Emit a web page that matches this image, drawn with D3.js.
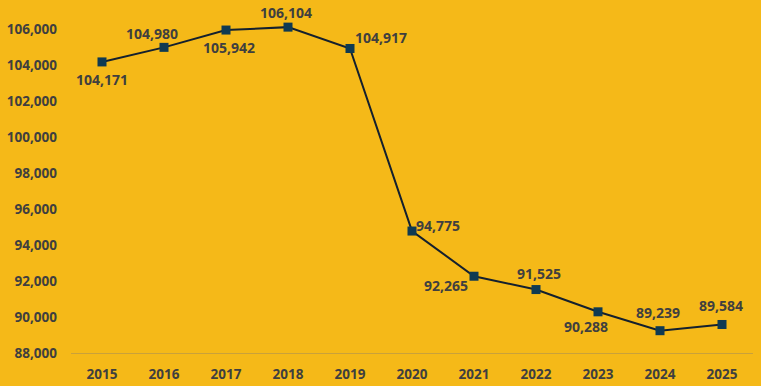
<!DOCTYPE html>
<html>
<head>
<meta charset="utf-8">
<script src="https://cdn.jsdelivr.net/npm/d3@7"></script>
<style>
  body { margin: 0; background: #f5b918; }
  svg { display: block; }
  text { font-family: 'Open Sans', 'Liberation Sans', sans-serif; font-weight: 700; fill: #3f3f3f; }
</style>
</head>
<body>
<div class="canvas"></div>
<script>
const years = ['2015', '2016', '2017', '2018', '2019', '2020', '2021', '2022', '2023', '2024', '2025']
const values = [104171, 104980, 105942, 106104, 104917, 94775, 92265, 91525, 90288, 89239, 89584]
const yTicks = [88000, 90000, 92000, 94000, 96000, 98000, 100000, 102000, 104000, 106000]

// where each value label sits relative to its marker
const labelOffset = [
  [0, 18, 'middle'], [-12, -13, 'middle'], [3, 18, 'middle'], [-2, -14, 'middle'],
  [5, -10, 'start'], [4, -5, 'start'], [-28, 10, 'middle'], [3, -15, 'middle'],
  [-12, 15, 'middle'], [-2, -18, 'middle'], [-1, -18, 'middle']
]

const dims = { width: 761, height: 386 }
const plot = { left: 71, right: 753, top: 29, bottom: 353 }

const svg = d3.select('.canvas').append('svg')
  .attr('width', dims.width)
  .attr('height', dims.height)

const x = d3.scaleBand()
  .domain(years)
  .range([plot.left, plot.right])

const y = d3.scaleLinear()
  .domain([88000, 106000])
  .range([plot.bottom, plot.top])

const fmt = d3.format(',')

// y axis labels
svg.append('g')
  .selectAll('text')
  .data(yTicks)
  .enter().append('text')
  .attr('x', 57)
  .attr('y', d => y(d))
  .attr('dy', '0.35em')
  .attr('text-anchor', 'end')
  .style('font-size', '13.5px')
  .text(d => fmt(d))

// baseline
svg.append('line')
  .attr('x1', plot.left)
  .attr('x2', plot.right)
  .attr('y1', y(88000) + 0.5)
  .attr('y2', y(88000) + 0.5)
  .attr('stroke', '#c9a13a')
  .attr('stroke-width', 1)

// x axis labels
svg.append('g')
  .selectAll('text')
  .data(years)
  .enter().append('text')
  .attr('x', d => x(d) + x.bandwidth() / 2)
  .attr('y', 374)
  .attr('dy', '0.35em')
  .attr('text-anchor', 'middle')
  .style('font-size', '13.5px')
  .text(d => d)

const points = years.map((yr, i) => ({ year: yr, value: values[i], off: labelOffset[i] }))
const cx = d => x(d.year) + x.bandwidth() / 2

const line = d3.line()
  .x(cx)
  .y(d => y(d.value))

svg.append('path')
  .datum(points)
  .attr('d', line)
  .attr('fill', 'none')
  .attr('stroke', '#14202e')
  .attr('stroke-width', 2)

svg.append('g')
  .selectAll('rect')
  .data(points)
  .enter().append('rect')
  .attr('x', d => cx(d) - 4.5)
  .attr('y', d => y(d.value) - 4.5)
  .attr('width', 9)
  .attr('height', 9)
  .attr('fill', '#0f3a52')

svg.append('g')
  .selectAll('text')
  .data(points)
  .enter().append('text')
  .attr('x', d => cx(d) + d.off[0])
  .attr('y', d => y(d.value) + d.off[1])
  .attr('dy', '0.35em')
  .attr('text-anchor', d => d.off[2])
  .style('font-size', '14px')
  .text(d => fmt(d.value))
</script>
</body>
</html>
